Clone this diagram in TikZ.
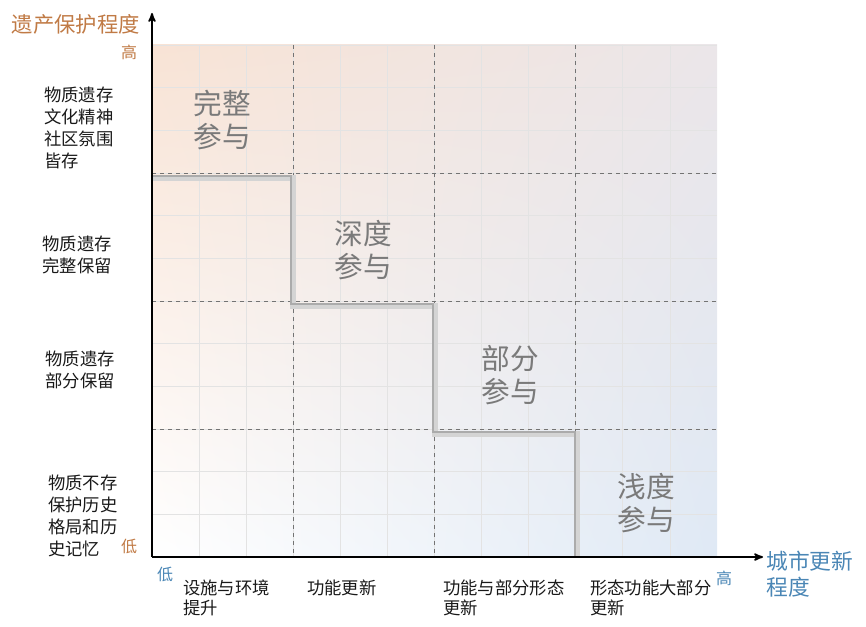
\documentclass[tikz,border=0pt]{standalone}
\usepackage{fontspec}
\setmainfont{Noto Sans CJK SC}
\usepackage{xcolor}
\usetikzlibrary{calc,shapes,arrows,shadings}
\definecolor{peach}{HTML}{F8E3D5}
\definecolor{mist}{HTML}{EBE6E9}
\definecolor{skyblue}{HTML}{DFE9F5}
\definecolor{rust}{HTML}{C07A45}
\definecolor{steel}{HTML}{4A86B5}

\begin{document}
\begin{tikzpicture}[
    x=0.75pt, y=-0.75pt,
    axis line/.style={line width=1.3pt, ->, >=stealth'},
    dashed line/.style={dashed, thin, color=black!55},
    minor line/.style={color=black!11, line width=0.6pt},
    stair line/.style={line width=2.2pt, color=black!33, line join=miter},
    stair shadow/.style={line width=4.5pt, color=black!17, line join=miter},
    level label/.style={font=\fontsize{13}{16.5}\selectfont, align=left, inner sep=0pt, color=black!90},
    stage label/.style={font=\fontsize{13}{15.5}\selectfont, align=left, inner sep=0pt, color=black!90},
    zone label/.style={font=\fontsize{21.5}{24.5}\selectfont, align=center, inner sep=0pt, color=black!52},
    every node/.style={inner sep=0pt}
    ]
    \useasboundingbox (0,0) rectangle (866,627);
    % Background
    \shade[upper left=peach, upper right=mist, lower left=white, lower right=skyblue]
        (152,45) rectangle (717,557);
    % Minor grid
    \foreach \i in {1,...,11}
        \draw[minor line] ({152+565/12*\i},45) -- ({152+565/12*\i},557);
    \foreach \i in {0,...,11}
        \draw[minor line] (152,{45+512/12*\i}) -- (717,{45+512/12*\i});
    % Dashed grid
    \foreach \i in {1,2,3} {
        \draw[dashed line] ({152+141.25*\i},45) -- ({152+141.25*\i},557);
        \draw[dashed line] (152,{45+128*\i}) -- (717,{45+128*\i});
    }
    % Staircase
    \draw[stair shadow] (153,178) -- (293,178) -- (293,306) -- (435,306)
        -- (435,434) -- (577,434) -- (577,557);
    \draw[stair line] (152,176) -- (291,176) -- (291,304) -- (433,304)
        -- (433,432) -- (575,432) -- (575,557);
    % Axes
    \coordinate (O) at (152,557);
    \coordinate (ytip) at (152,13);
    \coordinate (xtip) at (763,557);
    \draw[axis line] (O) -- (ytip);
    \draw[axis line] (O) -- (xtip);
    % Axis titles
    \node[font=\fontsize{16}{19}\selectfont, color=rust] (ytitle) at (76,24) {遗产保护程度};
    \node[font=\fontsize{16.3}{19}\selectfont, color=steel, align=left, anchor=west] (xtitle) at (766,574) {城市更新\\程度};
    \node[font=\fontsize{12}{14}\selectfont, color=rust] (yhigh) at (129,52) {高};
    \node[font=\fontsize{12}{14}\selectfont, color=rust] (ylow) at (129,546) {低};
    \node[font=\fontsize{12}{14}\selectfont, color=steel] (xlow) at (165,574) {低};
    \node[font=\fontsize{12}{14}\selectfont, color=steel] (xhigh) at (724,578) {高};
    % Level labels
    \node[level label, anchor=west] (full) at (44,128) {物质遗存\\文化精神\\社区氛围\\皆存};
    \node[level label] (whole) at (77,255) {物质遗存\\完整保留};
    \node[level label] (part) at (80,370) {物质遗存\\部分保留};
    \node[level label, anchor=west] (none) at (48,516) {物质不存\\保护历史\\格局和历\\史记忆};
    % Stage labels
    \node[stage label, anchor=west] (facility) at (183,598) {设施与环境\\提升};
    \node[stage label, anchor=west] (function) at (307,588) {功能更新};
    \node[stage label, anchor=west] (partform) at (443,598) {功能与部分形态\\更新};
    \node[stage label, anchor=west] (mostform) at (590,598) {形态功能大部分\\更新};
    % Zone labels
    \node[zone label] (complete) at (222,120) {完整\\参与};
    \node[zone label] (deep) at (363,250) {深度\\参与};
    \node[zone label] (partial) at (510,375) {部分\\参与};
    \node[zone label] (shallow) at (646,503) {浅度\\参与};
\end{tikzpicture}
\end{document}
